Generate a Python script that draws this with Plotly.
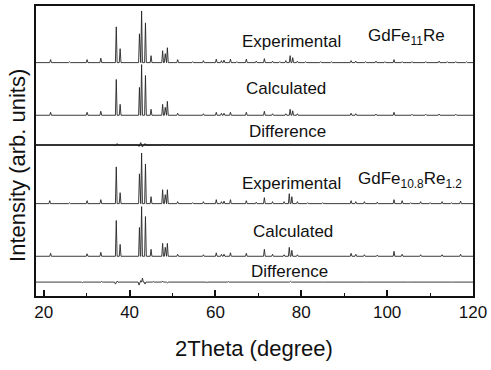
import plotly.graph_objects as go

# ---------------- data (2Theta in degree, intensity in arb. units) ----------------
exp1_pos = [21.6, 26.0, 30.1, 33.3, 36.9, 37.8, 42.3, 42.8, 43.7, 45.0, 47.7, 48.3, 48.8, 51.2,
            54.7, 57.2, 60.2, 61.4, 62.0, 63.5, 65.0, 67.2, 69.5, 71.4, 73.3, 75.0, 76.4, 77.4,
            78.0, 79.1, 81.0, 84.5, 87.0, 91.6, 92.7, 95.0, 97.4, 99.5, 101.6, 103.5, 105.8,
            109.0, 112.1, 114.0, 116.0, 118.5]
exp1_int = [3, 0.8, 3, 4.5, 36, 14, 29, 52, 40, 7, 12, 9, 15, 3,
            1, 2, 3.5, 2, 2.5, 3.5, 1, 3.5, 1.5, 4, 1.5, 1, 2, 7,
            5, 1.5, 1, 1, 0.8, 2, 1.5, 1, 1.5, 1, 3, 1, 1,
            1, 1.5, 1, 1, 0.8]

calc1_pos = [21.6, 30.1, 33.3, 36.9, 37.8, 42.3, 42.8, 43.7, 45.0, 47.7, 48.3, 48.8, 51.2,
             57.2, 60.2, 61.4, 62.0, 63.5, 67.2, 71.4, 73.3, 76.4, 77.4, 78.0, 79.1, 91.6,
             92.7, 97.4, 101.6, 105.8, 109.0, 112.1, 116.0]
calc1_int = [3, 3, 4, 36, 11, 28, 51, 40, 6, 11, 8, 14, 2,
             1.5, 3, 2, 2, 3, 3, 4, 1.5, 1.5, 6, 4.5, 1.5, 2,
             1.5, 1.2, 3, 1, 1, 1.2, 1]

diff1_pos = [36.8, 37.1, 42.2, 42.6, 43.0, 43.6, 47.7, 48.8, 77.4]
diff1_val = [-1, 1.5, -1.5, 2.5, -2, 1.5, 1, 1, 0.8]

exp2_pos = [21.4, 26.0, 30.1, 33.3, 36.9, 37.8, 42.3, 42.8, 43.7, 45.0, 47.7, 48.3, 48.8, 51.2,
            54.7, 57.2, 60.2, 61.4, 62.0, 63.5, 67.2, 69.5, 71.4, 73.3, 76.0, 77.2, 77.8,
            79.1, 81.5, 85.0, 91.6, 92.7, 94.7, 97.7, 101.6, 103.5, 105.5, 107.8, 110.0,
            112.8, 115.0, 117.1]
exp2_int = [3, 0.8, 3, 4, 37, 11, 30, 51, 40, 7, 14, 9, 14, 2,
            1, 2, 4, 2, 2.5, 4, 3, 1.5, 6, 2, 2, 10, 7,
            2, 1, 1, 3, 2, 2, 1.5, 4, 3, 1, 2, 1,
            2, 1, 2.5]

calc2_pos = [21.6, 30.1, 33.3, 36.9, 37.8, 42.3, 42.8, 43.7, 45.0, 47.7, 48.3, 48.8, 51.2,
             57.2, 60.2, 61.4, 62.0, 63.5, 67.2, 71.4, 73.3, 76.0, 77.2, 77.8, 79.1, 91.6,
             92.7, 94.7, 97.7, 101.6, 103.5, 107.8, 112.8, 117.1]
calc2_int = [3, 2.5, 4, 36, 12, 29, 50, 40, 7, 13, 9, 13, 2,
             1.5, 3.5, 2, 2, 3.5, 3, 7, 2, 1.5, 9, 6, 1.5, 3,
             2, 1.5, 1.2, 5, 2, 1.5, 1.5, 2]

diff2_pos = [24.0, 29.0, 33.5, 36.7, 37.1, 38.5, 42.2, 42.6, 43.0, 43.6, 45.5, 47.7, 48.8,
             52.0, 58.0, 63.0, 70.0, 77.5, 85.0, 95.0, 105.0, 115.0]
diff2_val = [0.5, -0.5, 0.6, -2, 1, -0.6, -3, 1.5, 4, -2, 0.6, 1, -0.8,
             0.5, -0.5, 0.5, -0.4, 0.8, -0.4, 0.4, -0.4, 0.4]

x_ticks = [20, 40, 60, 80, 100, 120]


# ---------------- helpers ----------------
def profile(pos, vals, offset, hw=0.2, x0=18.2, x1=120.0):
    xs, ys = [x0], [offset]
    for p, v in sorted(zip(pos, vals)):
        xs += [p - hw, p, p + hw]
        ys += [offset, offset + v, offset]
    xs.append(x1)
    ys.append(offset)
    return xs, ys


LINE = dict(color="#262626", width=0.9)

# baselines (in plot units: 1 unit = 1 pixel of plot height)
OFF = dict(exp1=235, calc1=182, diff1=152, exp2=93, calc2=40, diff2=14)

W, H = 491, 370
ML, MR, MT, MB = 36, 18, 4, 74
pw, ph = W - ML - MR, H - MT - MB


def px_to_paper(xp, yp):
    return (xp - ML) / pw, (H - MB - yp) / ph


fig = go.Figure()
for name, (pos, vals) in {
    "exp1": (exp1_pos, exp1_int),
    "calc1": (calc1_pos, calc1_int),
    "diff1": (diff1_pos, diff1_val),
    "exp2": (exp2_pos, exp2_int),
    "calc2": (calc2_pos, calc2_int),
    "diff2": (diff2_pos, diff2_val),
}.items():
    xs, ys = profile(pos, vals, OFF[name])
    fig.add_trace(go.Scatter(x=xs, y=ys, mode="lines", line=LINE,
                             showlegend=False, hoverinfo="skip"))

# divider between the two samples
fig.add_shape(type="line", xref="paper", yref="y", x0=0, x1=1,
              y0=OFF["diff1"], y1=OFF["diff1"], line=dict(color="#111", width=1.6))

FONT = "Liberation Sans, Arial, sans-serif"
labels = [
    ("Experimental", 77.8, 256),
    ("GdFe<sub>11</sub>Re", 104.5, 261),
    ("Calculated", 76.4, 209),
    ("Difference", 76.9, 166),
    ("Experimental", 77.8, 113),
    ("GdFe<sub>10.8</sub>Re<sub>1.2</sub>", 105.3, 117),
    ("Calculated", 78.1, 65),
    ("Difference", 77.3, 25),
]
for txt, x, y in labels:
    fig.add_annotation(x=x, y=y, xref="x", yref="y", text=txt, showarrow=False,
                       xanchor="center", yanchor="middle",
                       font=dict(family=FONT, size=17, color="#111"))

# axis titles
xx, yy = px_to_paper(254, 349)
fig.add_annotation(x=xx, y=yy, xref="paper", yref="paper", text="2Theta (degree)",
                   xanchor="center", yanchor="middle", showarrow=False,
                   font=dict(family=FONT, size=22, color="#111"))
xx, yy = px_to_paper(18, 165)
fig.add_annotation(x=xx, y=yy, xref="paper", yref="paper", text="Intensity (arb. units)",
                   textangle=-90, xanchor="center", yanchor="middle", showarrow=False,
                   font=dict(family=FONT, size=22, color="#111"))

fig.update_layout(
    width=W, height=H,
    margin=dict(l=ML, r=MR, t=MT, b=MB),
    paper_bgcolor="white", plot_bgcolor="white",
    font=dict(family=FONT, color="#111"),
    xaxis=dict(range=[18.2, 120], tickvals=x_ticks, ticks="inside", ticklen=6,
               tickwidth=1.6, tickcolor="#111", showline=True, mirror=True,
               linecolor="#111", linewidth=2, showgrid=False, zeroline=False,
               tickfont=dict(family=FONT, size=17, color="#111"),
               minor=dict(ticks="inside", ticklen=3, tickwidth=1.4, dtick=10,
                          tick0=0, tickcolor="#111", showgrid=False)),
    yaxis=dict(range=[0, ph], showticklabels=False, ticks="", showline=True, mirror=True,
               linecolor="#111", linewidth=2, showgrid=False, zeroline=False),
)

fig.write_html("out.html")
